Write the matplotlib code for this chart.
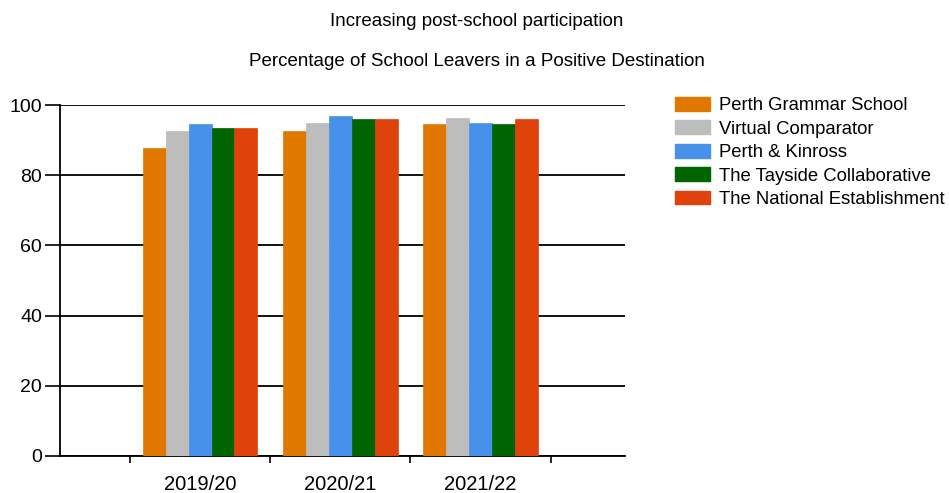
import numpy as np
import matplotlib
matplotlib.use("Agg")
import matplotlib.pyplot as plt
from matplotlib.patches import Patch

years = ['2019/20', '2020/21', '2021/22']
series = ['Perth Grammar School', 'Virtual Comparator', 'Perth & Kinross',
          'The Tayside Collaborative', 'The National Establishment']
values = [
    [87.8, 92.6, 94.5],   # Perth Grammar School
    [92.6, 95.0, 96.4],   # Virtual Comparator
    [94.5, 97.0, 95.0],   # Perth & Kinross
    [93.4, 95.9, 94.6],   # The Tayside Collaborative
    [93.4, 95.9, 95.9],   # The National Establishment
]
colors = ['#E07800', '#BDBDBD', '#4891EA', '#006400', '#E0420C']

plt.rcParams['font.family'] = ['Liberation Sans', 'DejaVu Sans']

fig = plt.figure(figsize=(9.49, 4.93), dpi=100)
ax = fig.add_axes([60 / 949, (493 - 456) / 493, (625 - 60) / 949, (456 - 105) / 493])

x = np.arange(1, len(years) + 1)
w = 0.163
for i, (name, vals) in enumerate(zip(series, values)):
    ax.bar(x + (i - 2) * w, vals, width=w, color=colors[i], label=name,
           edgecolor=colors[i], linewidth=0.5, zorder=3)

ax.set_xlim(0, 4.03)
ax.set_ylim(0, 100)
ax.set_yticks([0, 20, 40, 60, 80, 100])
ax.set_xticks(x)
ax.set_xticklabels(years)
ax.set_xticks([0.5, 1.5, 2.5, 3.5], minor=True)
ax.tick_params(axis='x', which='major', length=0, labelsize=14.5, pad=14)
ax.tick_params(axis='x', which='minor', length=5, width=1.2, direction='out')
ax.tick_params(axis='y', length=11, width=1.2, labelsize=14, pad=2)
ax.yaxis.grid(True, color='black', linewidth=1.3, zorder=0)
ax.set_axisbelow(True)
for s in ['top', 'right']:
    ax.spines[s].set_visible(False)
for s in ['left', 'bottom']:
    ax.spines[s].set_linewidth(1.3)

fig.text(477 / 949, 1 - 21 / 493, 'Increasing post-school participation',
         ha='center', va='center', fontsize=13.5)
fig.text(477 / 949, 1 - 62 / 493, 'Percentage of School Leavers in a Positive Destination',
         ha='center', va='center', fontsize=13.5)

handles = [Patch(facecolor=c, edgecolor=c) for c in colors]
fig.legend(handles, series, loc='upper left', bbox_to_anchor=(675 / 949, 1 - 97 / 493),
           frameon=False, fontsize=13.3, handlelength=1.9, handleheight=0.75,
           handletextpad=0.5, labelspacing=0.34, borderaxespad=0, borderpad=0)

fig.savefig('out.png', dpi=100)
